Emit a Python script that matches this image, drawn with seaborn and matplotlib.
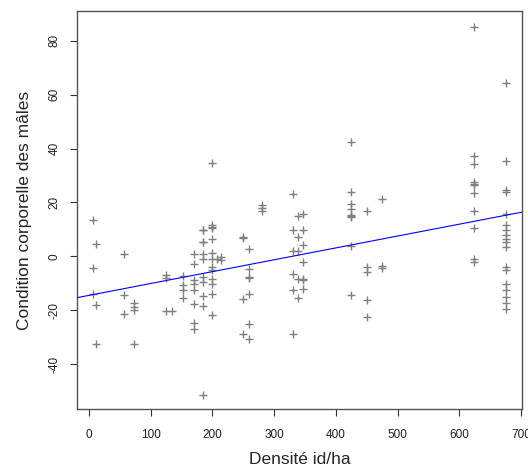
import matplotlib
matplotlib.use("Agg")
import matplotlib.pyplot as plt
import seaborn as sns
import numpy as np
import pandas as pd

# Data (density id/ha -> body condition of males)
d6 = [13.6, -4.3, -13.8]
d11 = [4.6, -17.9, -32.6]
d56 = [1.0, -14.2, -21.2]
d73 = [-17.3, -18.8, -19.7, -32.6]
d125 = [-7.0, -7.9, -20.3]
d134 = [-20.3]
d152 = [-7.4, -10.7, -12.6, -15.4]
d170 = [1.0, -2.7, -8.9, -10.1, -12.6, -17.5, -24.7, -27.1]
d184 = [9.6, 9.6, 5.3, 5.3, 0.7, -1.0, -7.7, -9.5, -14.7, -18.4, -51.5]
d199 = [34.6, 11.7, 10.9, 10.5, 6.5, 1.2, -0.9, -4.0, -5.2, -8.3, -10.1, -13.8, -21.6]
d208 = [-0.9]
d213 = [-0.3, -1.5]
d249 = [7.2, 6.8, -15.7, -28.9]
d259 = [2.8, -4.6, -7.7, -7.9, -14.1, -24.9, -30.7]
d280 = [19.1, 17.9, 16.8]
d330 = [23.0, 9.9, 1.9, -6.4, -12.3, -28.9]
d339 = [14.9, 7.2, 1.9, -8.3, -15.4]
d347 = [15.6, 9.6, 4.4, -2.1, -8.3, -8.9, -12.2]
d425 = [42.3, 23.8, 19.5, 17.7, 15.4, 15.0, 14.5, 3.7, -14.2]
d450 = [16.7, -4.0, -5.8, -16.0, -22.5]
d475 = [21.1, -3.5, -4.4]
d623 = [85.2, 37.4, 34.1, 27.5, 27.0, 26.5, 23.6, 17.0, 10.6, -0.9, -2.1]
d675 = [64.2, 35.3, 24.5, 24.0, 15.6, 11.5, 9.6, 7.8, 6.5, 5.3, 3.4,
        -4.0, -5.2, -10.1, -12.6, -15.1, -17.3, -19.4]

groups = {6: d6, 11: d11, 56: d56, 73: d73, 125: d125, 134: d134, 152: d152,
          170: d170, 184: d184, 199: d199, 208: d208, 213: d213, 249: d249,
          259: d259, 280: d280, 330: d330, 339: d339, 347: d347, 425: d425,
          450: d450, 475: d475, 623: d623, 675: d675}

# Fitted regression line (lm) coefficients
intercept = -14.45
slope = 0.044

x_ticks = [0, 100, 200, 300, 400, 500, 600, 700]
y_ticks = [-40, -20, 0, 20, 40, 60, 80]

xs, ys = [], []
for k, vals in groups.items():
    xs += [k] * len(vals)
    ys += vals
df = pd.DataFrame({"densite": xs, "condition": ys})

sns.set_style("white")
plt.rcParams['font.family'] = ['Liberation Sans', 'DejaVu Sans']

fig = plt.figure(figsize=(5.28, 4.73), dpi=100)
ax = fig.add_axes([77/528, 1 - 409.3/473, (521.7 - 77)/528, (409.3 - 10.7)/473])

sns.scatterplot(data=df, x="densite", y="condition", marker="+", color="#808080",
                s=28, linewidth=1.0, ax=ax, zorder=2)
ax.axline((0, intercept), slope=slope, color="#0000FF", linewidth=0.8, zorder=3)

ax.set_xlim(-19.5, 701)
ax.set_ylim(-56.7, 91.1)
ax.set_xticks(x_ticks)
ax.set_yticks(y_ticks)
ax.set_xticklabels([str(t) for t in x_ticks], fontsize=8.5, color="#222222")
ax.set_yticklabels([str(t) for t in y_ticks], fontsize=8.5, rotation=90,
                   va="center", color="#222222")
ax.tick_params(axis="x", direction="out", length=5, width=0.8, color="#333333",
               bottom=True, pad=9)
ax.tick_params(axis="y", direction="out", length=5, width=0.8, color="#333333",
               left=True, pad=7)
for s in ax.spines.values():
    s.set_color("#555555")
    s.set_linewidth(1.0)

ax.set_xlabel("Densité id/ha", fontsize=12.5, labelpad=8)
ax.set_ylabel("Condition corporelle des mâles", fontsize=12.5, labelpad=12)

fig.savefig("out.png", dpi=100)
